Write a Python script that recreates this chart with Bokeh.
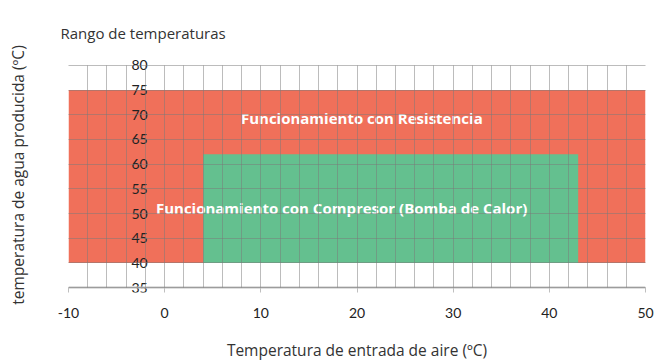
from bokeh.plotting import figure
from bokeh.models import (ColumnDataSource, SingleIntervalTicker, FixedTicker, LinearAxis,
                          Range1d, Span, Title)
from bokeh.core.properties import value
from bokeh.embed import file_html
from bokeh.resources import INLINE

# Data
zones = ["Funcionamiento con Resistencia", "Funcionamiento con Compresor (Bomba de Calor)"]
air_min = [-10, 4]
air_max = [50, 43]
water_min = [40, 40]
water_max = [75, 62]
zone_colors = ["#F0705A", "#64C08F"]
x_ticks = [-10, 0, 10, 20, 30, 40, 50]
x_tick_labels = ["-10", "0", "10", "20", "30", "40", "50"]
y_ticks = [35, 40, 45, 50, 55, 60, 65, 70, 75, 80]
y_tick_labels = ["35", "40", "45", "50", "55", "60", "65", "70", "75", "80"]
label_x = [20.5, 18.4]
label_y = [69.4, 51.1]

NUM_FONT = "Lato"
TXT_FONT = "Open Sans"

p = figure(width=654, height=363, output_backend="svg", toolbar_location=None,
           x_range=Range1d(-10, 50), y_range=Range1d(34, 81.6),
           min_border_left=68, min_border_right=9, min_border_top=57, min_border_bottom=68)
p.background_fill_color = "white"
p.border_fill_color = "white"
p.outline_line_color = None

# chart title
p.title = Title(text="Rango de temperaturas", align="left", offset=-8, standoff=30,
                text_font=TXT_FONT, text_font_size="15px", text_font_style="normal",
                text_color="#333333")

src = ColumnDataSource(dict(left=air_min, right=air_max, bottom=water_min, top=water_max, color=zone_colors))
p.quad(left="left", right="right", bottom="bottom", top="top", fill_color="color",
       line_color=None, source=src)

# grid
p.xgrid.ticker = SingleIntervalTicker(interval=2)
p.xgrid.cross_bounds = (y_ticks[0], y_ticks[-1])
p.ygrid.ticker = FixedTicker(ticks=y_ticks)
for g in (p.xgrid, p.ygrid):
    g.grid_line_color = "#7a7a7a"
    g.grid_line_alpha = 0.5
    g.grid_line_width = 1
    g.level = "overlay"

# x axis line at the lowest value
p.add_layout(Span(location=y_ticks[0], dimension="width", line_color="#bfbfbf", line_width=2))

# x axis (sits at the frame bottom; ticks reach up to the axis line)
p.xaxis.ticker = FixedTicker(ticks=x_ticks)
p.xaxis.major_label_overrides = dict(zip(x_ticks, x_tick_labels))
p.xaxis.minor_tick_line_color = None
p.xaxis.major_tick_in = 5
p.xaxis.major_tick_out = 0
p.xaxis.major_tick_line_color = "#bfbfbf"
p.xaxis.axis_line_color = None
p.xaxis.major_label_text_font = NUM_FONT
p.xaxis.major_label_text_font_size = "14px"
p.xaxis.major_label_text_color = "#222222"
p.xaxis.major_label_standoff = 15
p.xaxis.axis_label = "Temperatura de entrada de aire (ºC)"
p.xaxis.axis_label_text_font = TXT_FONT
p.xaxis.axis_label_text_font_size = "15.5px"
p.xaxis.axis_label_text_font_style = "normal"
p.xaxis.axis_label_text_color = "#333333"
p.xaxis.axis_label_standoff = 18

# left axis: only carries the axis title
p.yaxis.ticker = FixedTicker(ticks=[])
p.yaxis.axis_line_color = None
p.yaxis.major_tick_line_color = None
p.yaxis.minor_tick_line_color = None
p.yaxis.major_tick_out = 0
p.yaxis.axis_label = "temperatura de agua producida (ºC)"
p.yaxis.axis_label_text_font = TXT_FONT
p.yaxis.axis_label_text_font_size = "15.5px"
p.yaxis.axis_label_text_font_style = "normal"
p.yaxis.axis_label_text_color = "#333333"
p.yaxis.axis_label_standoff = 40

# value axis crossing at x = 0
yax = LinearAxis(fixed_location=0, ticker=FixedTicker(ticks=y_ticks),
                 major_label_overrides=dict(zip(y_ticks, y_tick_labels)),
                 axis_line_color=None, major_tick_line_color=None, minor_tick_line_color=None,
                 major_tick_in=0, major_tick_out=0, major_label_standoff=17,
                 major_label_text_font=NUM_FONT, major_label_text_font_size="14px",
                 major_label_text_color="#222222")
p.add_layout(yax, "left")

# zone labels
lsrc = ColumnDataSource(dict(x=label_x, y=label_y, t=zones))
p.text(x="x", y="y", text="t", source=lsrc, text_align="center", text_baseline="middle",
       text_font=value(TXT_FONT), text_font_size="15px", text_font_style="bold",
       text_color="white")

open("out.html", "w").write(file_html(p, INLINE))
